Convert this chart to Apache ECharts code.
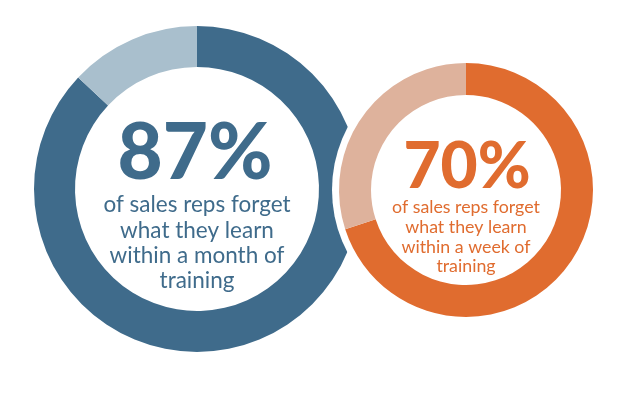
<!DOCTYPE html>
<html>
<head>
<meta charset="utf-8">
<script src="https://cdn.jsdelivr.net/npm/echarts@6/dist/echarts.min.js"></script>
<style>
html,body{margin:0;padding:0;background:#ffffff;}
#chart{width:632px;height:395px;}
</style>
</head>
<body>
<div id="chart"></div>
<script>
// Data
const leftNames = ['Forget', 'Retain'];
const leftValues = [87, 13];
const leftCaption = ['of sales reps forget', 'what they learn', 'within a month of', 'training'];

const rightNames = ['Forget', 'Retain'];
const rightValues = [70, 30];
const rightCaption = ['of sales reps forget', 'what they learn', 'within a week of', 'training'];

const blueDark = '#3f6b8b', blueLight = '#a9bfcd';
const orangeDark = '#e06c2f', orangeLight = '#deb29c';

const chart = echarts.init(document.getElementById('chart'), null, {renderer: 'canvas'});

function pieData(names, values, colors) {
  return names.map((n, i) => ({name: n, value: values[i], itemStyle: {color: colors[i]}}));
}

const common = {
  type: 'pie',
  startAngle: 90,
  clockwise: true,
  silent: true,
  label: {show: false},
  labelLine: {show: false},
  emphasis: {disabled: true},
  avoidLabelOverlap: false
};

chart.setOption({
  animation: false,
  backgroundColor: '#ffffff',
  series: [
    Object.assign({}, common, {
      name: 'month', center: [197, 189], radius: [122, 163], z: 1,
      data: pieData(leftNames, leftValues, [blueDark, blueLight])
    }),
    Object.assign({}, common, {
      name: 'gap', center: [466, 190], radius: [0, 134], z: 2,
      data: [{name: 'gap', value: 1, itemStyle: {color: '#ffffff'}}]
    }),
    Object.assign({}, common, {
      name: 'week', center: [466, 190], radius: [95, 127], z: 3,
      data: pieData(rightNames, rightValues, [orangeDark, orangeLight])
    })
  ],
  graphic: [
    {type: 'text', z: 10, x: 195, y: 154, style: {
      text: leftValues[0] + '%', textAlign: 'center', verticalAlign: 'middle',
      font: '900 78px Lato', fill: blueDark}},
    {type: 'text', z: 10, x: 197, y: 243, style: {
      text: leftCaption.join('\n'), textAlign: 'center', verticalAlign: 'middle',
      font: '22.5px Lato', lineHeight: 25.3, fill: blueDark}},
    {type: 'text', z: 10, x: 467, y: 167, style: {
      text: rightValues[0] + '%', textAlign: 'center', verticalAlign: 'middle',
      font: '900 64px Lato', fill: orangeDark}},
    {type: 'text', z: 10, x: 466, y: 237, style: {
      text: rightCaption.join('\n'), textAlign: 'center', verticalAlign: 'middle',
      font: '17.8px Lato', lineHeight: 19.8, fill: orangeDark}}
  ]
});
</script>
</body>
</html>
